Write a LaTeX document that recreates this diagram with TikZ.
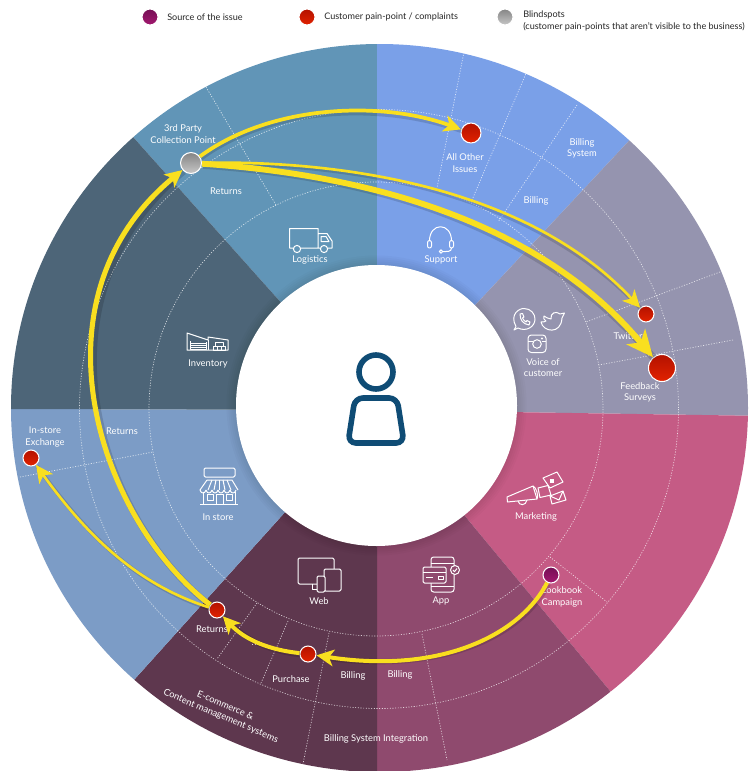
\documentclass[tikz,border=0pt]{standalone}
\usepackage{fontspec}
\setmainfont{Lato}
\usetikzlibrary{arrows.meta,shadows}

\definecolor{supportblue}{HTML}{7AA0E8}
\definecolor{voicegrey}{HTML}{9594AF}
\definecolor{marketingpink}{HTML}{C55B85}
\definecolor{appplum}{HTML}{8F4A6E}
\definecolor{webplum}{HTML}{5E374E}
\definecolor{storeblue}{HTML}{7C9CC6}
\definecolor{inventoryslate}{HTML}{4D6578}
\definecolor{logisticsteal}{HTML}{6195B7}
\definecolor{flowyellow}{HTML}{F9DF1F}
\definecolor{personblue}{HTML}{0F4C75}
\definecolor{sourcetop}{HTML}{750F55}
\definecolor{sourcebot}{HTML}{A3186F}
\definecolor{redtop}{HTML}{B31200}
\definecolor{redbot}{HTML}{E22200}

\tikzset{
    seglabel/.style={text=white, align=center, inner sep=0pt, font=\fontsize{7}{8.4}\selectfont},
    keylabel/.style={text=black!85, align=left, inner sep=0pt, anchor=west, font=\fontsize{6.8}{8.6}\selectfont},
    ringdots/.style={draw=white, opacity=.75, line width=.5pt, dash pattern=on .8pt off 1.2pt},
    icon/.style={draw=white, line width=.75pt, line join=round},
    dot/.style={circle, draw=white, line width=.8pt, inner sep=0pt, minimum size=#1*.75pt,
        general shadow={fill=black, opacity=.14, scale=1.5}},
    reddot/.style={dot=#1, top color=redtop, bottom color=redbot},
    sourcedot/.style={dot=#1, top color=sourcetop, bottom color=sourcebot},
    blinddot/.style={dot=#1, top color=black!48, bottom color=black!22},
    flow/.style={draw=flowyellow, line width=#1, preaction={draw=black, opacity=.14, line width=#1+1pt, arrows=-, transform canvas={xshift=.9pt,yshift=-1.1pt}}},
    smalltip/.style={-{Stealth[length=13pt,width=12.5pt,inset=3.5pt]}},
    bigtip/.style={-{Stealth[length=20pt,width=18pt,inset=5.5pt]}}
}

\begin{document}
\begin{tikzpicture}[x=.75pt,y=-.75pt]
    \useasboundingbox (0,0) rectangle (754,771);
    \fill[white] (0,0) rectangle (754,771);

    % Segments of the wheel
    \begin{scope}
        \clip (379.5,408) ellipse [x radius=368.5, y radius=364];
        \coordinate (hub) at (377,410);
        \fill[logisticsteal] (hub) -- (33,25) -- (377,0) -- cycle;
        \fill[supportblue] (hub) -- (377,0) -- (697,68) -- cycle;
        \fill[voicegrey] (hub) -- (697,68) -- (800,0) -- (800,416.5) -- cycle;
        \fill[marketingpink] (hub) -- (800,416.5) -- (800,803) -- (703,803) -- cycle;
        \fill[appplum] (hub) -- (703,803) -- (377,803) -- cycle;
        \fill[webplum] (hub) -- (377,803) -- (43,781) -- cycle;
        \fill[storeblue] (hub) -- (43,781) -- (0,781) -- (0,409) -- cycle;
        \fill[inventoryslate] (hub) -- (0,409) -- (0,25) -- (33,25) -- cycle;

        % Soft edge round the centre
        \foreach \rad in {142,144,146,148,150}
            \fill[black, opacity=.02] (376.5,405.5) circle (\rad);

        % Dotted rings
        \draw[ringdots] (376,409) circle (227);
        \draw[ringdots] (379,409) circle (299.5);

        % Dotted spokes
        \draw[ringdots] (206,87) -- (276,205);
        \draw[ringdots] (465,47) -- (437,188);
        \draw[ringdots] (533,57) -- (472,200);
        \draw[ringdots] (577,105) -- (498,222);
        \draw[ringdots] (720,272) -- (586,322);
        \draw[ringdots] (733,340) -- (599,365);
        \draw[ringdots] (550,557) -- (607,602);
        \draw[ringdots] (422,634) -- (447,760);
        \draw[ringdots] (329,633) -- (303,764);
        \draw[ringdots] (288,621) -- (261,683);
        \draw[ringdots] (257,603) -- (217,659);
        \draw[ringdots] (252,644) -- (258,644);
        \draw[ringdots] (20,477) -- (153,452);
    \end{scope}

    % Centre and person
    \fill[white] (376.5,405.5) circle (140.5);
    \draw[personblue, line width=4.2pt] (376,372) circle (17);
    \draw[personblue, line width=4.2pt, rounded corners=6pt] (355,398) -- (397,398) -- (404,443) -- (348,443) -- cycle;

    % Logistics icon
    \draw[icon] (318,248) -- (289.5,248) -- (289.5,228.5) -- (318,228.5) -- (318,248) -- (332,248) -- (332,241) -- (327,233.5) -- (318,233.5);
    \draw[icon] (321,236.5) -- (326,236.5) -- (329,241.5) -- (321,241.5) -- cycle;
    \draw[icon, fill=logisticsteal] (297,249) circle (3.6);
    \draw[icon, fill=logisticsteal] (324,249) circle (3.6);

    % Support icon
    \draw[icon] (429.5,241) .. controls (429.5,222) and (451.5,222) .. (451.5,241);
    \draw[icon, rounded corners=1.5pt] (427.5,240.5) rectangle (431.5,248);
    \draw[icon, rounded corners=1.5pt] (449.5,240.5) rectangle (453.5,248);
    \draw[icon] (451.5,248) .. controls (451.5,252) and (447,251.5) .. (443,251.5);
    \draw[icon] (441,251.5) circle (1.7);

    % Voice of customer icons
    \draw[icon] (516,326.5) .. controls (509,314) and (520,308) .. (524,308.5) .. controls (531,308.5) and (535,314) .. (535,319) .. controls (535,327) and (526,332) .. (518,328) -- (514,330) -- cycle;
    \draw[icon] (520,314) .. controls (520,320) and (523,324) .. (529,325) -- (530,322) -- (527,320.5) -- (526,322) .. controls (524.5,321) and (523,319.5) .. (522.5,318) -- (524,317) -- (522.5,313.5) -- cycle;
    \draw[icon] (541,322) .. controls (543,332) and (561,335) .. (562,318) -- (564.5,313) -- (560,314) .. controls (556,310.5) and (550,313) .. (551,319) .. controls (548,319) and (546,317) .. (544,316) .. controls (543,318) and (544,320) .. (546,321) .. controls (544.5,322) and (543,322) .. (541,322) -- cycle;
    \draw[icon, rounded corners=2.5pt] (528,335) rectangle (546,352.5);
    \draw[icon] (528,341) -- (532.5,341);
    \draw[icon] (541.5,341) -- (546,341);
    \draw[icon] (537,344) circle (4.3);
    \fill[white] (542,338.5) circle (1.2);

    % Marketing icon
    \draw[icon] (507,497) -- (533,486) -- (537,499) -- (507.5,502) -- cycle;
    \draw[icon] (518,501) .. controls (519,506) and (526,506) .. (527,500);
    \draw[icon] (533,486) .. controls (536,487) and (539,496) .. (537,499);
    \draw[icon] (543,478) -- (557,472) -- (563,482) -- (550,488) -- cycle;
    \fill[white] (550,479) rectangle (554,482.5);
    \draw[icon] (538,488) -- (548,485.5) -- (551,495) -- (540,497.5) -- cycle;
    \draw[icon] (550,496) -- (563,491) -- (566,500) -- (552,504) -- cycle;
    \draw[icon] (550,496) -- (559,500) -- (563,491);

    % App icon
    \draw[icon, rounded corners=2pt] (431,557) rectangle (454,592);
    \draw[icon] (431,563) -- (454,563);
    \draw[icon] (431,586) -- (454,586);
    \draw[icon, fill=appplum, rounded corners=1pt] (423,567) rectangle (446,583);
    \draw[icon] (423,572) -- (446,572);
    \draw[icon] (426,577) -- (433,577);
    \draw[icon] (438,576) rectangle (443,579.5);
    \draw[icon, fill=appplum] (455,570) circle (4.5);
    \draw[icon] (453,570) -- (454.5,571.7) -- (457,568.5);

    % Web icon
    \draw[icon, rounded corners=1pt] (298,558) rectangle (334,584);
    \draw[icon] (312,584) -- (312,589) -- (317,589);
    \draw[icon, fill=webplum, rounded corners=1pt] (324,569) rectangle (341,591);
    \draw[icon, fill=webplum, rounded corners=1pt] (317,576) rectangle (325,592);

    % In store icon
    \draw[icon, rounded corners=1pt] (204,468) rectangle (235,477);
    \draw[icon] (207,480) -- (232,480) -- (238,490);
    \draw[icon] (207,480) -- (200,490);
    \foreach \top/\bot in {212/208,216/214,219.5/219.5,223/225,227/231}
        \draw[icon] (\top,480) -- (\bot,490);
    \foreach \lft in {200,206,212,218,224,230}
        \draw[icon] (\lft,490) .. controls (\lft+1,494) and (\lft+5,494) .. (\lft+6,490);
    \draw[icon] (203,492) -- (203,504);
    \draw[icon] (235,492) -- (235,504);
    \draw[icon] (200,504) -- (238,504);
    \draw[icon] (216,504) -- (216,494) -- (223,494) -- (223,504);
    \draw[icon] (207,494) rectangle (213,500);
    \draw[icon] (226,494) rectangle (232,500);

    % Inventory icon
    \draw[icon] (187,350) -- (187,333) -- (208,340) -- (208,337) -- (228,340) -- (228,350) -- cycle;
    \draw[icon] (208,340) -- (208,350);
    \draw[icon] (190,341) -- (190,349) -- (206,349) -- (206,342);
    \foreach \yy in {343,345,347}
        \draw[icon, line width=.4pt] (190,\yy) -- (206,\yy);
    \draw[icon, line width=.5pt] (213,346) rectangle (217,350);
    \draw[icon, line width=.5pt] (217,346) rectangle (221,350);
    \draw[icon, line width=.5pt] (221,346) rectangle (225,350);
    \draw[icon, line width=.5pt] (215,342.5) rectangle (223,346);

    % Main labels
    \node[seglabel] (logisticsLabel) at (310,260) {Logistics};
    \node[seglabel] (supportLabel) at (441,260) {Support};
    \node[seglabel] (voiceLabel) at (543,368) {Voice of\\customer};
    \node[seglabel] (marketingLabel) at (536,517) {Marketing};
    \node[seglabel] (appLabel) at (441,601) {App};
    \node[seglabel] (webLabel) at (319,601) {Web};
    \node[seglabel] (storeLabel) at (218,517) {In store};
    \node[seglabel] (inventoryLabel) at (208,364) {Inventory};

    % Ring labels
    \node[seglabel] (pickupLabel) at (183,134) {3rd Party\\Collection Point};
    \node[seglabel] (returnsTopLabel) at (226,191) {Returns};
    \node[seglabel] (otherLabel) at (465,163) {All Other\\Issues};
    \node[seglabel] (billingTopLabel) at (536,201) {Billing};
    \node[seglabel] (billingSysLabel) at (582,148) {Billing\\System};
    \node[seglabel] (twitterLabel) at (628,336) {Twitter};
    \node[seglabel] (surveyLabel) at (640,392) {Feedback\\Surveys};
    \node[seglabel] (lookbookLabel) at (562,597) {Lookbook\\Campaign};
    \node[seglabel] (billingAppLabel) at (400,675) {Billing};
    \node[seglabel] (billingWebLabel) at (353,676) {Billing};
    \node[seglabel] (purchaseLabel) at (291,679) {Purchase};
    \node[seglabel] (returnsLowLabel) at (212,629) {Returns};
    \node[seglabel, rotate=-23] (ecomLabel) at (223,711) {E-commerce \&\\Content management systems};
    \node[seglabel] (billingIntLabel) at (376,739) {Billing System Integration};
    \node[seglabel] (returnsLeftLabel) at (122,431) {Returns};
    \node[seglabel] (exchangeLabel) at (45,437) {In-store\\Exchange};

    % Markers
    \node[blinddot=21] (pickupDot) at (191,163) {};
    \node[reddot=20] (otherDot) at (471,133) {};
    \node[reddot=16] (twitterDot) at (646,314) {};
    \node[reddot=27] (surveyDot) at (662,368) {};
    \node[sourcedot=16] (lookbookDot) at (551,575) {};
    \node[reddot=16] (purchaseDot) at (308,654) {};
    \node[reddot=16] (returnsDot) at (217,610) {};
    \node[reddot=16] (exchangeDot) at (31,458) {};

    % Flows
    \draw[flow=3pt, smalltip] (lookbookDot) .. controls (522,632) and (445,675) .. (purchaseDot);
    \draw[flow=3pt, smalltip] (purchaseDot) .. controls (270,650) and (245,640) .. (returnsDot);
    \draw[flow=3.8pt, smalltip] (returnsDot) .. controls (100,520) and (25,300) .. (pickupDot);
    \draw[flow=2pt, smalltip] (returnsDot) .. controls (140,585) and (90,540) .. (exchangeDot);
    \draw[flow=2.8pt, smalltip] (pickupDot) .. controls (270,105) and (380,100) .. (otherDot);
    \draw[flow=2pt, smalltip] (pickupDot) .. controls (350,160) and (530,190) .. (twitterDot);
    \draw[flow=4.4pt, bigtip] (pickupDot) .. controls (370,175) and (540,222) .. (surveyDot);

    % Legend
    \node[sourcedot=16] (sourceKey) at (150,17) {};
    \node[reddot=16] (painKey) at (307,17) {};
    \node[blinddot=16] (blindKey) at (505,17) {};
    \node[keylabel] (sourceText) at (167,17) {Source of the issue};
    \node[keylabel] (painText) at (324,17) {Customer pain-point / complaints};
    \node[keylabel] (blindText) at (523,21) {Blindspots\\(customer pain-points that aren't visible to the business)};
\end{tikzpicture}
\end{document}
